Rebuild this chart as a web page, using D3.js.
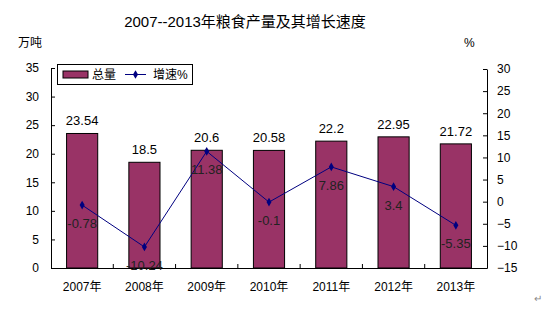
<!DOCTYPE html>
<html><head><meta charset="utf-8">
<script src="https://cdn.jsdelivr.net/npm/d3@7"></script>
<style>body{margin:0;background:#fff}svg{display:block}</style>
</head><body>
<svg id="c" width="549" height="322"></svg>
<script>
const years = ["2007年","2008年","2009年","2010年","2011年","2012年","2013年"];
const totals = [23.54, 18.5, 20.6, 20.58, 22.2, 22.95, 21.72];
const growth = [-0.78, -10.24, 11.38, -0.1, 7.86, 3.4, -5.35];
const leftTicks = [0,5,10,15,20,25,30,35];
const rightTicks = [-15,-10,-5,0,5,10,15,20,25,30];

const svg = d3.select("#c");
const L = 51, R = 487, T = 68, B = 268;
const font = "'Liberation Sans', Arial, 'Noto Sans CJK SC', sans-serif";
const x = d3.scaleBand().domain(years).range([L, R]).paddingInner(0.5).paddingOuter(0.25);
const xb = d3.scaleBand().domain(years).range([L, R]);
const yL = d3.scaleLinear().domain([0,35]).range([B, T]);
const yR = d3.scaleLinear().domain([-15,30]).range([B, T+1]);

svg.append("text").attr("x",245).attr("y",27).attr("text-anchor","middle")
  .attr("font-family",font).attr("font-size",15).text("2007--2013年粮食产量及其增长速度");
svg.append("text").attr("x",18).attr("y",47).attr("font-family",font).attr("font-size",12).text("万吨");
svg.append("text").attr("x",464).attr("y",47).attr("font-family",font).attr("font-size",12).text("%");

// bars
svg.selectAll("rect.bar").data(totals).enter().append("rect")
  .attr("x",(d,i)=>x(years[i])).attr("width",x.bandwidth())
  .attr("y",d=>yL(d)).attr("height",d=>B-yL(d))
  .attr("fill","#993366").attr("stroke","#000").attr("stroke-width",1);

// axes
const axL = svg.append("g").attr("transform",`translate(${L},0)`)
  .call(d3.axisLeft(yL).tickValues(leftTicks).tickSizeInner(-4).tickSizeOuter(0).tickPadding(12));
const axR = svg.append("g").attr("transform",`translate(${R},0)`)
  .call(d3.axisRight(yR).tickValues(rightTicks).tickSizeInner(-4).tickSizeOuter(0).tickPadding(10));
const axB = svg.append("g").attr("transform",`translate(0,${B})`)
  .call(d3.axisBottom(xb).tickSize(0).tickPadding(14));
[axL,axR,axB].forEach(g=>{
  g.selectAll("path,line").attr("stroke","#000").attr("stroke-width",1);
  g.selectAll("text").attr("font-family",font).attr("font-size",12).attr("fill","#000");
});
// category boundary ticks (inside)
svg.selectAll("line.cb").data(years.slice(1)).enter().append("line")
  .attr("x1",d=>xb(d)).attr("x2",d=>xb(d)).attr("y1",B).attr("y2",B-4)
  .attr("stroke","#000");

// line
const cx = (i)=>xb(years[i])+xb.bandwidth()/2;
svg.append("path").datum(growth)
  .attr("d",d3.line().x((d,i)=>cx(i)).y(d=>yR(d)))
  .attr("fill","none").attr("stroke","#000080").attr("stroke-width",1);
svg.selectAll("path.mk").data(growth).enter().append("path")
  .attr("d",d3.symbol().type(d3.symbolDiamond).size(22))
  .attr("transform",(d,i)=>`translate(${cx(i)},${yR(d)})`).attr("fill","#000080");

// labels
svg.selectAll("text.tl").data(totals).enter().append("text")
  .attr("x",(d,i)=>cx(i)).attr("y",d=>yL(d)-8).attr("text-anchor","middle")
  .attr("font-family",font).attr("font-size",13).text(d=>d);
svg.selectAll("text.gl").data(growth).enter().append("text")
  .attr("x",(d,i)=>cx(i)).attr("y",d=>yR(d)+23).attr("text-anchor","middle")
  .attr("font-family",font).attr("font-size",13).attr("fill","#222").text(d=>d);

// legend
const lg = svg.append("g");
lg.append("rect").attr("x",57.5).attr("y",64.5).attr("width",135).attr("height",20)
  .attr("fill","#fff").attr("stroke","#000");
lg.append("rect").attr("x",63).attr("y",71).attr("width",25).attr("height",7)
  .attr("fill","#993366").attr("stroke","#000");
lg.append("text").attr("x",92).attr("y",79).attr("font-family",font).attr("font-size",12).text("总量");
lg.append("line").attr("x1",125).attr("x2",146).attr("y1",74.5).attr("y2",74.5).attr("stroke","#000080");
lg.append("path").attr("d",d3.symbol().type(d3.symbolDiamond).size(22)).attr("transform","translate(135.5,74.5)").attr("fill","#000080");
lg.append("text").attr("x",153).attr("y",79).attr("font-family",font).attr("font-size",12).text("增速%");

svg.append("text").attr("x",534).attr("y",302).attr("font-family",font).attr("font-size",10).attr("fill","#888").text("↵");
</script>
</body></html>
